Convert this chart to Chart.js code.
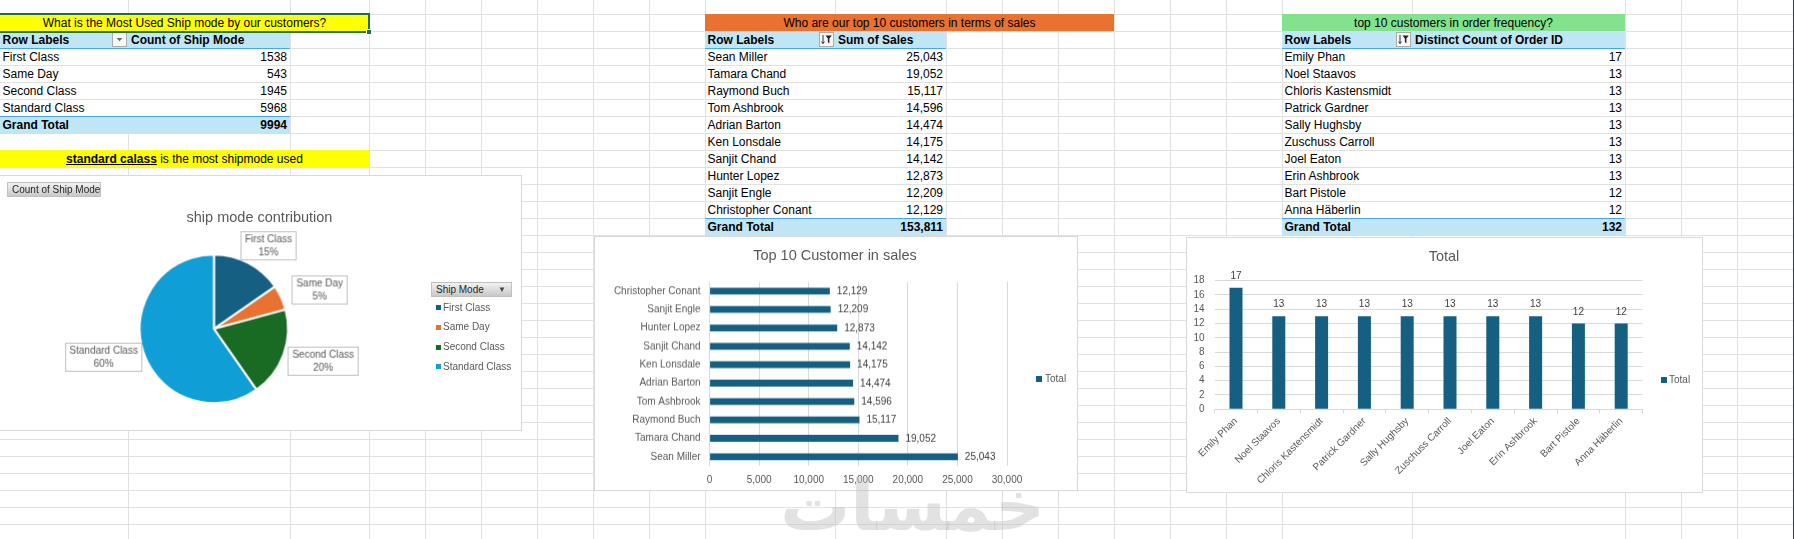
<!DOCTYPE html>
<html><head><meta charset="utf-8">
<script src="https://cdn.jsdelivr.net/npm/chart.js@4.4.1/dist/chart.umd.min.js"></script>
<style>
html,body{margin:0;padding:0;width:1794px;height:539px;overflow:hidden;background:#fff;}
body{position:relative;font-family:'Liberation Sans',Arial,sans-serif;color:#000;}
.a{position:absolute;box-sizing:border-box;white-space:nowrap;}
#hgrid{position:absolute;left:0;top:0;width:1794px;height:539px;
 background-image:repeating-linear-gradient(to bottom,transparent 0,transparent 16px,#e1e1e1 16px,#e1e1e1 17px);
 background-position:0 -2px;}
.vl{position:absolute;top:0;width:1px;height:539px;background:#e1e1e1;}
.cell{font-size:12px;line-height:17px;height:17px;}
.box{position:absolute;box-sizing:border-box;background:#fff;border:1px solid #d9d9d9;}
.ctitle{position:absolute;width:400px;text-align:center;font-family:'Liberation Sans',Arial,sans-serif;font-size:14.5px;color:#595959;line-height:18px;}
.leg{position:absolute;font-size:10px;color:#595959;line-height:14px;white-space:nowrap;}
.sq{position:absolute;width:5px;height:5px;}
.fbtn{position:absolute;box-sizing:border-box;background:linear-gradient(#f2f2f2,#c8c8c8);border:1px solid #c0c0c0;font-size:10px;color:#262626;line-height:13px;white-space:nowrap;}
</style>
</head>
<body>
<div id="hgrid"></div>
<div id="sheet"></div>
<div id="charts"></div>
<script>
// ---------- DATA ----------
const shipModes = ["First Class", "Same Day", "Second Class", "Standard Class"];
const shipCounts = [1538, 543, 1945, 5968];
const shipTotal = 9994;

const salesCustomers = ["Sean Miller", "Tamara Chand", "Raymond Buch", "Tom Ashbrook", "Adrian Barton",
  "Ken Lonsdale", "Sanjit Chand", "Hunter Lopez", "Sanjit Engle", "Christopher Conant"];
const salesValues = [25043, 19052, 15117, 14596, 14474, 14175, 14142, 12873, 12209, 12129];
const salesTotal = 153811;

const freqCustomers = ["Emily Phan", "Noel Staavos", "Chloris Kastensmidt", "Patrick Gardner", "Sally Hughsby",
  "Zuschuss Carroll", "Joel Eaton", "Erin Ashbrook", "Bart Pistole", "Anna Häberlin"];
const orderCounts = [17, 13, 13, 13, 13, 13, 13, 13, 12, 12];
const orderTotal = 132;

const shipColors = ["#156082", "#E97132", "#196B24", "#0F9ED5"];
const salesAxisMax = 30000, salesAxisStep = 5000;
const countAxisMax = 18, countAxisStep = 2;

// ---------- SHEET ----------
const FAM = "'Liberation Sans',Arial,sans-serif";
const CF = 10; // chart font size
const sheet = document.getElementById('sheet');
const colLines = [128,290,369,425,481,537,593,649,705,835,946,1002,1058,1114,1170,1226,1282,1412,1625,1681,1737];
colLines.forEach(x=>{const d=document.createElement('div');d.className='vl';d.style.left=x+'px';sheet.appendChild(d);});
const edge=document.createElement('div');edge.className='vl';edge.style.left='1793px';edge.style.background='#2b3a67';sheet.appendChild(edge);

function div(cls, css, html){const d=document.createElement('div');d.className=cls;d.style.cssText=css;if(html!==undefined)d.innerHTML=html;sheet.appendChild(d);return d;}
const rowTop = r => 14 + 17*(r-1);
const fmtComma = v => v.toLocaleString('en-US');
const ddSvg = '<svg width="15" height="15" style="display:block"><rect x="0.5" y="0.5" width="14" height="14" fill="#f7f7f7" stroke="#ababab"/><path d="M4.5 6h6l-3 3.3z" fill="#6b6b6b"/></svg>';
const sortSvg = '<svg width="15" height="15" style="display:block"><rect x="0.5" y="0.5" width="14" height="14" fill="#f7f7f7" stroke="#ababab"/><path d="M4 3v8.5M2.6 9.6L4 11.6L5.4 9.6" stroke="#333" stroke-width="1" fill="none"/><path d="M6.5 3.5h6.3l-2.4 3v4.8l-1.5-1v-3.8z" fill="#222"/></svg>';

function pivot(t){
  div('a cell', `left:${t.left}px;top:${rowTop(1)}px;width:${t.titleRight-t.left}px;background:${t.titleColor};text-align:center;padding-top:1px;`, t.title);
  div('a cell', `left:${t.left}px;top:${rowTop(2)}px;width:${t.right-t.left}px;background:#C0E6F5;`);
  div('a cell', `left:${t.left+2.5}px;top:${rowTop(2)+1}px;font-weight:bold;`, 'Row Labels');
  div('a', `left:${t.split-16}px;top:${rowTop(2)+1}px;width:15px;height:15px;`, t.btn);
  div('a cell', `left:${t.split+3}px;top:${rowTop(2)+1}px;font-weight:bold;`, t.valueHeader);
  div('a', `left:${t.left}px;top:${rowTop(3)}px;width:${t.right-t.left}px;height:1px;background:#4aa8de;`);
  t.labels.forEach((lab,i)=>{
    const r=3+i;
    div('a', `left:${t.left+1}px;top:${rowTop(r)+1}px;width:${t.right-t.left-1}px;height:16px;background:#fff;`);
    div('a cell', `left:${t.left+2.5}px;top:${rowTop(r)+1}px;`, lab);
    div('a cell', `left:${t.split}px;top:${rowTop(r)+1}px;width:${t.right-t.split-3}px;text-align:right;`, t.fmt(t.values[i]));
  });
  const gr = 3 + t.labels.length;
  div('a', `left:${t.left}px;top:${rowTop(gr)}px;width:${t.right-t.left}px;height:1px;background:#4aa8de;`);
  div('a', `left:${t.left}px;top:${rowTop(gr)+1}px;width:${t.right-t.left}px;height:17px;background:#C0E6F5;`);
  div('a cell', `left:${t.left+2.5}px;top:${rowTop(gr)+1}px;font-weight:bold;`, 'Grand Total');
  div('a cell', `left:${t.split}px;top:${rowTop(gr)+1}px;width:${t.right-t.split-3}px;text-align:right;font-weight:bold;`, t.fmt(t.total));
}

pivot({left:0, split:128, right:290, titleRight:369, titleColor:'#FFFF00', title:'What is the Most Used Ship mode by our customers?',
  btn:ddSvg, valueHeader:'Count of Ship Mode', labels:shipModes, values:shipCounts, total:shipTotal, fmt:v=>String(v)});
pivot({left:705, split:835, right:946, titleRight:1114, titleColor:'#E97132', title:'Who are our top 10 customers in terms of sales',
  btn:sortSvg, valueHeader:'Sum of Sales', labels:salesCustomers, values:salesValues, total:salesTotal, fmt:fmtComma});
pivot({left:1282, split:1412, right:1625, titleRight:1625, titleColor:'#83E28E', title:'top 10 customers in order frequency?',
  btn:sortSvg, valueHeader:'Distinct Count of Order ID', labels:freqCustomers, values:orderCounts, total:orderTotal, fmt:v=>String(v)});

div('a', `left:-2px;top:13px;width:372px;height:20px;border:2px solid #1e7145;`);
div('a', `left:366px;top:29px;width:6px;height:6px;background:#1e7145;border:1px solid #fff;`);
div('a cell', `left:0;top:${rowTop(9)}px;width:369px;background:#FFFF00;text-align:center;padding-top:1px;`, '<b><u>standard calass</u></b> is the most shipmode used');

// ---------- CHART BOXES ----------
const charts = document.getElementById('charts');
function cdiv(cls, css, html){const d=document.createElement('div');d.className=cls;d.style.cssText=css;if(html!==undefined)d.innerHTML=html;charts.appendChild(d);return d;}
cdiv('box','left:-1px;top:175px;width:523px;height:256px;');
cdiv('box','left:594px;top:236px;width:484px;height:255px;');
cdiv('box','left:1186px;top:237px;width:517px;height:256px;');

function canvasWrap(l,t,w,h,id){const d=cdiv('a',`left:${l}px;top:${t}px;width:${w}px;height:${h}px;`);const c=document.createElement('canvas');c.id=id;d.appendChild(c);return c;}
const pieCanvas = canvasWrap(0,175.3,521.7,254.7,'pie');
const salesCanvas = canvasWrap(594.7,236,482.3,254.7,'sales');
const countCanvas = canvasWrap(1186.7,237.7,515.6,254.6,'count');

cdiv('ctitle','left:59.5px;top:208px;','ship mode contribution');
cdiv('ctitle','left:635px;top:246px;','Top 10 Customer in sales');
cdiv('ctitle','left:1244px;top:247px;','Total');

cdiv('fbtn','left:7px;top:182px;width:94px;height:15px;padding-left:4px;','Count of Ship Mode');
cdiv('fbtn','left:431px;top:282px;width:81px;height:15px;padding-left:4px;','Ship Mode<span style="position:absolute;right:5px;top:0;font-size:8px;color:#444">&#9660;</span>');
shipModes.forEach((m,i)=>{
  const y=[307.7,327.4,347,366.7][i];
  cdiv('sq',`left:436px;top:${y-2.5}px;background:${shipColors[i]};`);
  cdiv('leg',`left:443px;top:${y-7}px;`, m);
});
cdiv('sq','left:1036px;top:376px;width:6px;height:6px;background:#156082;');
cdiv('leg','left:1045px;top:372px;','Total');
cdiv('sq','left:1661px;top:377px;width:6px;height:6px;background:#156082;');
cdiv('leg','left:1669px;top:373px;','Total');

cdiv('a',`left:780px;top:466px;width:230px;text-align:center;font-family:'DejaVu Sans',sans-serif;font-weight:bold;font-size:70px;line-height:80px;color:rgba(190,190,190,0.45);`,'خمسات');

// ---------- CHART.JS ----------
Chart.defaults.font.family = FAM;
Chart.defaults.font.size = CF;
Chart.defaults.color = '#595959';

function roundPercents(vals){
  const tot = vals.reduce((a,b)=>a+b,0);
  const raw = vals.map(v=>v*100/tot);
  const fl = raw.map(Math.floor);
  let rem = 100 - fl.reduce((a,b)=>a+b,0);
  const order = raw.map((v,i)=>[v-Math.floor(v),i]).sort((a,b)=>b[0]-a[0]);
  for(let k=0;k<rem;k++) fl[order[k][1]]++;
  return fl;
}

const calloutPlugin = {
  id:'callouts',
  afterDatasetsDraw(chart){
    const ctx = chart.ctx, meta = chart.getDatasetMeta(0);
    const pcts = roundPercents(shipCounts);
    ctx.save();
    ctx.font = CF + 'px ' + FAM;
    meta.data.forEach((arc,i)=>{
      const mid = (arc.startAngle + arc.endAngle)/2;
      const R = arc.outerRadius;
      const cx = arc.x + 1.56*R*Math.cos(mid), cy = arc.y + 1.27*R*Math.sin(mid);
      const l1 = chart.data.labels[i], l2 = pcts[i] + '%';
      const w = Math.round(Math.max(ctx.measureText(l1).width, ctx.measureText(l2).width) + 8), h = 28;
      const bx = Math.round(cx - w/2) + 0.5, by = Math.round(cy - h/2) + 0.5;
      ctx.fillStyle = '#fff'; ctx.fillRect(bx, by, w, h);
      ctx.strokeStyle = '#bfbfbf'; ctx.lineWidth = 1; ctx.strokeRect(bx, by, w, h);
      ctx.fillStyle = '#595959'; ctx.textAlign = 'center'; ctx.textBaseline = 'middle';
      ctx.fillText(l1, bx + w/2, by + h/2 - 6.3);
      ctx.fillText(l2, bx + w/2, by + h/2 + 6.3);
    });
    ctx.restore();
  }
};

const valueLabels = {
  id:'valueLabels',
  afterDatasetsDraw(chart, args, opts){
    const ctx = chart.ctx, meta = chart.getDatasetMeta(0), ds = chart.data.datasets[0];
    ctx.save();
    ctx.font = CF + 'px ' + FAM;
    ctx.fillStyle = '#404040';
    meta.data.forEach((bar,i)=>{
      const txt = opts.fmt(ds.data[i]);
      if(opts.horizontal){ ctx.textAlign='left'; ctx.textBaseline='middle'; ctx.fillText(txt, bar.x + 7, bar.y + 0.5); }
      else { ctx.textAlign='center'; ctx.textBaseline='middle'; ctx.fillText(txt, bar.x, bar.y - 11.7); }
    });
    ctx.restore();
  }
};

new Chart(pieCanvas, {
  type:'pie',
  data:{labels:shipModes, datasets:[{data:shipCounts, backgroundColor:shipColors, borderColor:'#ffffff', borderWidth:2}]},
  options:{responsive:true, maintainAspectRatio:false, animation:false,
    layout:{padding:{left:138.5, right:233.2, top:78.2, bottom:26.5}},
    plugins:{legend:{display:false}, tooltip:{enabled:false}}},
  plugins:[calloutPlugin]
});

new Chart(salesCanvas, {
  type:'bar',
  data:{labels:salesCustomers, datasets:[{label:'Total', data:salesValues, backgroundColor:'#156082', barPercentage:0.37, categoryPercentage:1}]},
  options:{indexAxis:'y', responsive:true, maintainAspectRatio:false, animation:false,
    layout:{padding:{left:0, right:70.3, top:45.7, bottom:0}},
    plugins:{legend:{display:false}, tooltip:{enabled:false}, valueLabels:{horizontal:true, fmt:fmtComma}},
    scales:{
      x:{min:0, max:salesAxisMax, ticks:{stepSize:salesAxisStep, padding:8}, grid:{color:'#d9d9d9', drawTicks:false}, border:{display:false},
         afterFit(s){s.height=25.7;}},
      y:{reverse:true, ticks:{padding:9, autoSkip:false}, grid:{display:false, drawTicks:false}, border:{display:false},
         afterFit(s){s.width=114.6;}}
    }},
  plugins:[valueLabels]
});

new Chart(countCanvas, {
  type:'bar',
  data:{labels:freqCustomers, datasets:[{label:'Total', data:orderCounts, backgroundColor:'#156082', barPercentage:0.304, categoryPercentage:1}]},
  options:{responsive:true, maintainAspectRatio:false, animation:false,
    layout:{padding:{left:0, right:60, top:42.6, bottom:0}},
    plugins:{legend:{display:false}, tooltip:{enabled:false}, valueLabels:{horizontal:false, fmt:v=>String(v)}},
    scales:{
      x:{ticks:{maxRotation:45, minRotation:45, padding:2, autoSkip:false},
         grid:{display:true, drawOnChartArea:false, drawTicks:true, tickLength:4, color:'#d9d9d9', offset:true},
         border:{display:true, color:'#d9d9d9'}, afterFit(s){s.height=83.3;}},
      y:{min:0, max:countAxisMax, ticks:{stepSize:countAxisStep, padding:10, autoSkip:false}, grid:{color:'#d9d9d9', drawTicks:false}, border:{display:false},
         afterFit(s){s.width=27.6;}}
    }},
  plugins:[valueLabels]
});
</script>
</body></html>
